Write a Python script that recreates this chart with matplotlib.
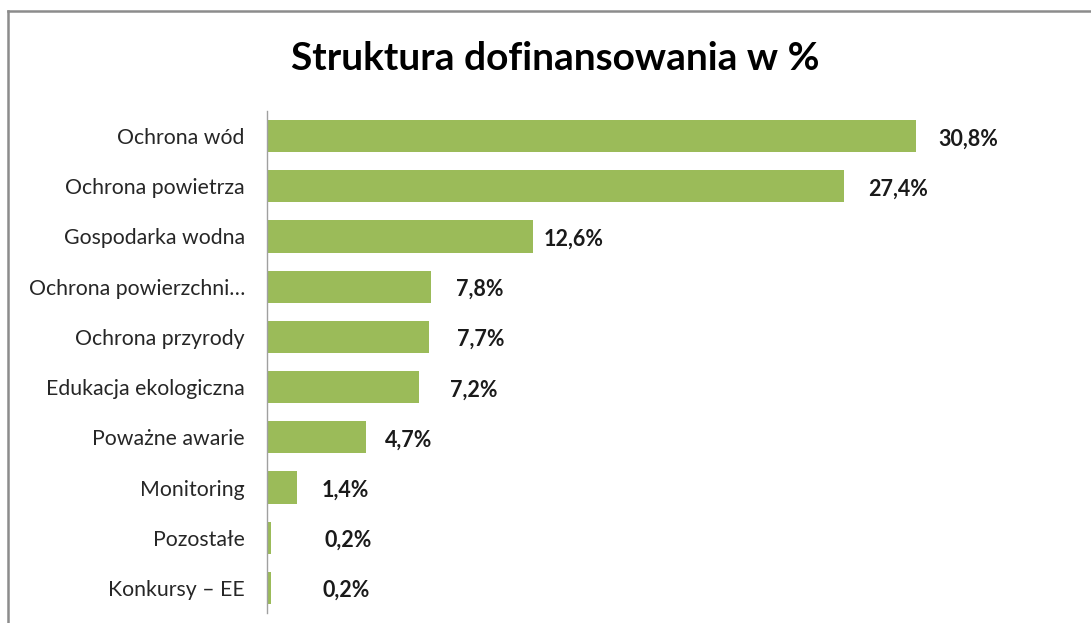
import matplotlib
matplotlib.use("Agg")
import matplotlib.pyplot as plt
from matplotlib.lines import Line2D

categories = ["Ochrona wód", "Ochrona powietrza", "Gospodarka wodna",
              "Ochrona powierzchni…", "Ochrona przyrody", "Edukacja ekologiczna",
              "Poważne awarie", "Monitoring", "Pozostałe", "Konkursy – EE"]
values = [30.8, 27.4, 12.6, 7.8, 7.7, 7.2, 4.7, 1.4, 0.2, 0.2]
value_labels = ["30,8%", "27,4%", "12,6%", "7,8%", "7,7%", "7,2%", "4,7%", "1,4%", "0,2%", "0,2%"]
title = "Struktura dofinansowania w %"

# label offsets (pixels from bar end) to mimic the manually placed labels
label_pad_px = [22, 24, 11, 25, 28, 31, 19, 25, 53, 51]

W, H = 1091, 623
fig = plt.figure(figsize=(W / 100, H / 100), dpi=100)
fig.patch.set_facecolor("white")

font = ["Lato", "DejaVu Sans"]

ax_left, ax_top, ax_bottom = 267, 111, 613
xmax = 35
px_per_unit = (916 - 267) / 30.8
ax_width = xmax * px_per_unit
ax = fig.add_axes([ax_left / W, (H - ax_bottom) / H, ax_width / W, (ax_bottom - ax_top) / H])

ypos = list(range(len(categories)))
ax.barh(ypos, values, height=0.64, color="#9BBB59", edgecolor="none")
ax.set_xlim(0, xmax)
ax.set_ylim(len(categories) - 0.5, -0.5)

ax.set_yticks(ypos)
ax.set_yticklabels(categories, fontsize=15.3, color="#262626", family=font)
ax.tick_params(axis="y", length=0, pad=16)
ax.set_xticks([])
for s in ["top", "right", "bottom"]:
    ax.spines[s].set_visible(False)
ax.spines["left"].set_color("#A0A0A0")
ax.spines["left"].set_linewidth(1.0)

for i, (v, lab, pad) in enumerate(zip(values, value_labels, label_pad_px)):
    ax.annotate(lab, xy=(v, i), xytext=(pad * 0.72, -2), textcoords="offset points",
                ha="left", va="center", fontsize=15.5, fontweight="bold",
                color="#1a1a1a", family=font)

fig.text(555 / W, 1 - 58 / H, title, ha="center", va="center", fontsize=28,
         fontweight="bold", color="#000000", family=font)

# chart-area border (left and top visible)
fig.add_artist(Line2D([8 / W, 8 / W], [0, 1 - 11 / H], transform=fig.transFigure,
                      color="#8C8C8C", linewidth=1.8))
fig.add_artist(Line2D([8 / W, 1], [1 - 11 / H, 1 - 11 / H], transform=fig.transFigure,
                      color="#8C8C8C", linewidth=1.8))

fig.savefig("out.png", dpi=100, facecolor="white")
